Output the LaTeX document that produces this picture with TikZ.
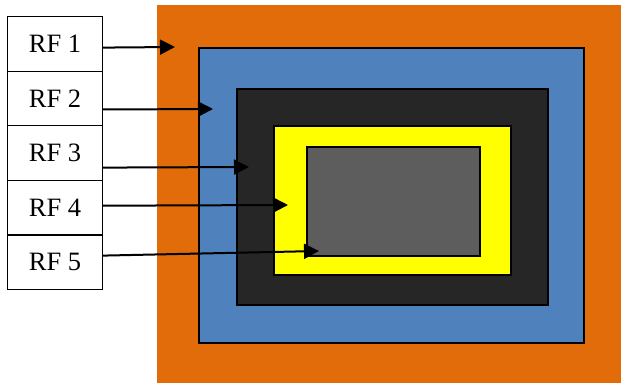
\documentclass[tikz,border=0pt]{standalone}
\usepackage{fontspec}
\setmainfont{Liberation Serif}
\usetikzlibrary{arrows.meta,positioning}
\definecolor{ringorange}{RGB}{226,108,10}
\definecolor{ringblue}{RGB}{79,129,189}
\definecolor{ringdark}{RGB}{38,38,38}
\definecolor{ringyellow}{RGB}{255,255,0}
\definecolor{ringgray}{RGB}{93,93,93}
\tikzset{
  rfbox/.style={draw=black,line width=1.2pt,fill=white,minimum width=95pt,
    minimum height=54.6pt,inner sep=0pt,font=\fontsize{26.5}{30}\selectfont},
  ringrect/.style={draw=black,line width=1.2pt},
  rfarrow/.style={-{Triangle[length=15pt,width=15pt]},line width=2pt,draw=black},
}

\begin{document}
\begin{tikzpicture}[x=1pt,y=1pt]
        \useasboundingbox (0,0) rectangle (621,383);
        % nested regions
        \fill[ringorange] (157,0) rectangle (621,378);
        \draw[ringrect,fill=ringblue] (199,40) rectangle (584,335);
        \draw[ringrect,fill=ringdark] (237,78) rectangle (548,294);
        \draw[ringrect,fill=ringyellow] (274,108) rectangle (511,257);
        \draw[ringrect,fill=ringgray] (307,127) rectangle (480,236);
        % arrow ends
        \coordinate (tip1) at (175,336);
        \coordinate (tip2) at (213,274);
        \coordinate (tip3) at (249,216);
        \coordinate (tip4) at (288,178);
        \coordinate (tip5) at (319,132);
        % labels
        \node[rfbox,anchor=north west] (rf1) at (7,367) {RF 1};
        \node[rfbox,below=-1.2pt of rf1] (rf2) {RF 2};
        \node[rfbox,below=-1.2pt of rf2] (rf3) {RF 3};
        \node[rfbox,below=-1.2pt of rf3] (rf4) {RF 4};
        \node[rfbox,below=-1.2pt of rf4] (rf5) {RF 5};
        \draw[rfarrow] ([yshift=-3.7pt]rf1.east) -- (tip1);
        \draw[rfarrow] ([yshift=-11pt]rf2.east) -- (tip2);
        \draw[rfarrow] ([yshift=-14.5pt]rf3.east) -- (tip3);
        \draw[rfarrow] ([yshift=2pt]rf4.east) -- (tip4);
        \draw[rfarrow] ([yshift=6.7pt]rf5.east) -- (tip5);
      \end{tikzpicture}
\end{document}
